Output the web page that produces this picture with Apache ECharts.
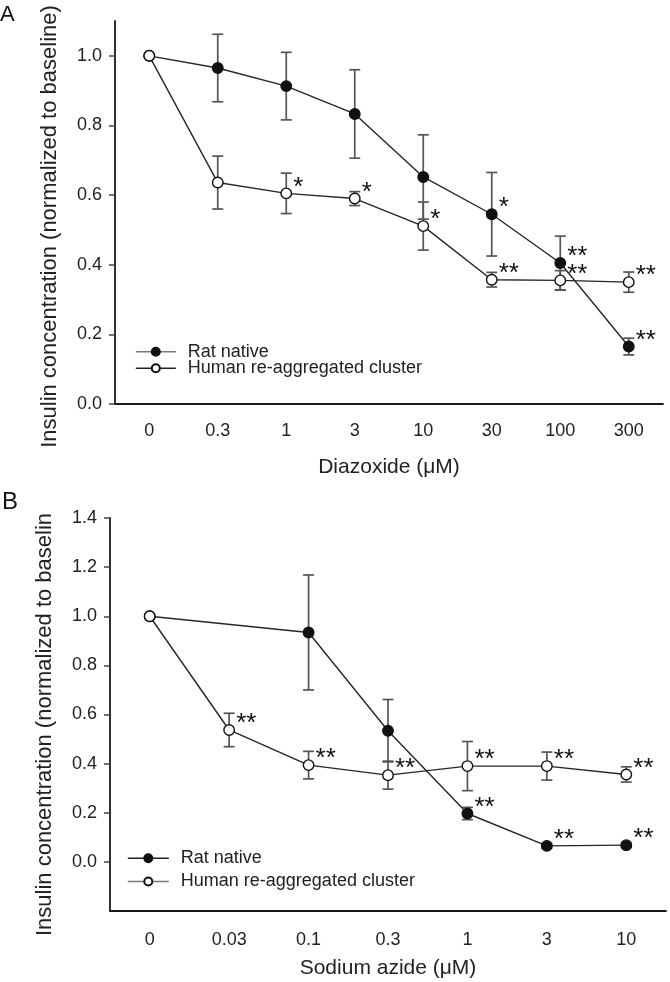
<!DOCTYPE html>
<html>
<head>
<meta charset="utf-8">
<script src="https://cdn.jsdelivr.net/npm/echarts@6/dist/echarts.min.js"></script>
<style>
html,body{margin:0;padding:0;background:#fff;}
#chart{width:670px;height:982px;}
</style>
</head>
<body>
<div id="chart"></div>
<script>
// ---- Panel A data (Diazoxide) ----
var catsA = ['0', '0.3', '1', '3', '10', '30', '100', '300'];
var ratA = [1.0, 0.965, 0.913, 0.833, 0.652, 0.545, 0.405, 0.165];
var ratAErr = [0, 0.097, 0.097, 0.127, 0.121, 0.12, 0.077, 0.024];
var ratASig = ['', '', '', '', '', '*', '**', '**'];
var humA = [1.0, 0.636, 0.605, 0.59, 0.511, 0.357, 0.355, 0.35];
var humAErr = [0, 0.076, 0.058, 0.02, 0.069, 0.021, 0.028, 0.029];
var humASig = ['', '', '*', '*', '*', '**', '**', '**'];
var yTicksA = [0.0, 0.2, 0.4, 0.6, 0.8, 1.0];

// ---- Panel B data (Sodium azide) ----
var catsB = ['0', '0.03', '0.1', '0.3', '1', '3', '10'];
var ratB = [1.0, null, 0.934, 0.534, 0.197, 0.065, 0.068];
var ratBErr = [0, null, 0.234, 0.127, 0.025, 0.01, 0.008];
var ratBSig = ['', '', '', '', '**', '**', '**'];
var humB = [1.0, 0.537, 0.394, 0.353, 0.39, 0.39, 0.356];
var humBErr = [0, 0.068, 0.056, 0.057, 0.1, 0.057, 0.031];
var humBSig = ['', '**', '**', '**', '**', '**', '**'];
var yTicksB = [0.0, 0.2, 0.4, 0.6, 0.8, 1.0, 1.2, 1.4];

var RAT = 'Rat native';
var HUM = 'Human re-aggregated cluster';
var FONT = '"Liberation Sans", Arial, sans-serif';
var TXT = '#222';
var AXC = '#1a1a1a';

function errData(vals, errs, sigs) {
  var out = [];
  for (var i = 0; i < vals.length; i++) {
    if (vals[i] == null) continue;
    out.push([i, vals[i], errs[i] || 0, sigs[i] || '']);
  }
  return out;
}

function errRender(params, api) {
  var i = api.value(0), v = api.value(1), e = api.value(2);
  var c = api.coord([i, v]);
  var children = [];
  var cap = 5.5;
  if (e > 0) {
    var t = api.coord([i, v + e]), b = api.coord([i, v - e]);
    var st = {stroke: '#555', lineWidth: 1.7};
    children.push({type: 'line', shape: {x1: c[0], y1: t[1], x2: c[0], y2: b[1]}, style: st});
    children.push({type: 'line', shape: {x1: c[0] - cap, y1: t[1], x2: c[0] + cap, y2: t[1]}, style: st});
    children.push({type: 'line', shape: {x1: c[0] - cap, y1: b[1], x2: c[0] + cap, y2: b[1]}, style: st});
  }
  return {type: 'group', children: children};
}

function sigRender(params, api) {
  var i = api.value(0), v = api.value(1);
  var s = api.value(3);
  var c = api.coord([i, v]);
  if (!s) return null;
  return {
    type: 'text',
    style: {
      text: s, x: c[0] + 7, y: c[1] - 6,
      fontSize: 26, fontFamily: FONT, fill: '#111',
      align: 'left', verticalAlign: 'middle'
    }
  };
}

function lineSeries(name, data, xi, filled) {
  return {
    name: name, type: 'line', xAxisIndex: xi, yAxisIndex: xi,
    data: data, connectNulls: true, z: 3,
    symbol: 'circle', symbolSize: 10.5,
    lineStyle: {color: '#262626', width: 1.4},
    itemStyle: {color: filled ? '#111' : '#fff', borderColor: '#111', borderWidth: 1.4},
    emphasis: {disabled: true}
  };
}
function customSeries(name, vals, errs, sigs, xi, render, z) {
  return {
    name: name, type: 'custom', xAxisIndex: xi, yAxisIndex: xi,
    data: errData(vals, errs, sigs), renderItem: render, z: z, clip: false,
    encode: {x: 0, y: 1}, silent: true
  };
}

function xAxisCfg(cats, gi, margin, nameText, nameGap) {
  return {
    type: 'category', gridIndex: gi, data: cats, boundaryGap: true,
    name: nameText, nameLocation: 'middle', nameGap: nameGap,
    nameTextStyle: {fontSize: 21, color: TXT, fontFamily: FONT},
    axisLine: {onZero: false, lineStyle: {color: AXC, width: 1.8}},
    axisTick: {alignWithLabel: true, length: 6, lineStyle: {color: '#444', width: 1.5}},
    axisLabel: {fontSize: 18, color: TXT, fontFamily: FONT, margin: margin},
    splitLine: {show: false}
  };
}
function yAxisCfg(gi, min, max, ticks, nameText, pad) {
  return {
    type: 'value', gridIndex: gi, min: min, max: max, interval: 0.2,
    name: nameText, nameLocation: 'middle', nameGap: 54, nameRotate: 90,
    nameTextStyle: {fontSize: 22, color: TXT, fontFamily: FONT, padding: [0, pad, 0, 0]},
    axisLine: {show: true, lineStyle: {color: AXC, width: 1.8}},
    axisTick: {show: true, length: 6, customValues: ticks, lineStyle: {color: '#444', width: 1.5}},
    axisLabel: {fontSize: 18, color: TXT, fontFamily: FONT, margin: 13, customValues: ticks,
      formatter: function (v) { return Number(v).toFixed(1); }},
    splitLine: {show: false}
  };
}
function legendItem(name, left, centerY, lineColor, itemWidth) {
  return {
    orient: 'horizontal', left: left, top: centerY - 9, padding: 0,
    itemWidth: itemWidth, itemHeight: 10,
    textStyle: {fontSize: 18, color: TXT, fontFamily: FONT, lineHeight: 18, padding: [0, 0, 0, 7]},
    data: [{name: name, lineStyle: {color: lineColor, width: 1.6}}],
    selectedMode: false
  };
}

var chart = echarts.init(document.getElementById('chart'), null, {renderer: 'canvas'});
chart.setOption({
  animation: false,
  backgroundColor: '#fff',
  textStyle: {fontFamily: FONT},
  graphic: [
    {type: 'text', left: 0, top: 4, style: {text: 'A', fontSize: 22, fontFamily: FONT, fill: '#111'}},
    {type: 'text', left: 2, top: 490, style: {text: 'B', fontSize: 24, fontFamily: FONT, fill: '#111'}}
  ],
  grid: [
    {left: 115, top: 21, width: 548, height: 383},
    {left: 110, top: 518, width: 556, height: 393}
  ],
  xAxis: [
    xAxisCfg(catsA, 0, 18, 'Diazoxide (\u03bcM)', 53),
    xAxisCfg(catsB, 1, 20, 'Sodium azide (\u03bcM)', 47)
  ],
  yAxis: [
    yAxisCfg(0, 0, 1.1, yTicksA, 'Insulin concentration (normalized to baseline)', 28),
    yAxisCfg(1, -0.2, 1.4, yTicksB, 'Insulin concentration (normalized to baselin', 20)
  ],
  legend: [
    legendItem(RAT, 135, 351.7, '#777', 40),
    legendItem(HUM, 135, 368.3, '#222', 40),
    legendItem(RAT, 127, 858.3, '#222', 41),
    legendItem(HUM, 127, 881.5, '#777', 41)
  ],
  series: [
    customSeries('errRatA', ratA, ratAErr, ratASig, 0, errRender, 1),
    customSeries('errHumA', humA, humAErr, humASig, 0, errRender, 1),
    lineSeries(RAT, ratA, 0, true),
    lineSeries(HUM, humA, 0, false),
    customSeries('sigRatA', ratA, ratAErr, ratASig, 0, sigRender, 4),
    customSeries('sigHumA', humA, humAErr, humASig, 0, sigRender, 4),

    customSeries('errRatB', ratB, ratBErr, ratBSig, 1, errRender, 1),
    customSeries('errHumB', humB, humBErr, humBSig, 1, errRender, 1),
    lineSeries(RAT, ratB, 1, true),
    lineSeries(HUM, humB, 1, false),
    customSeries('sigRatB', ratB, ratBErr, ratBSig, 1, sigRender, 4),
    customSeries('sigHumB', humB, humBErr, humBSig, 1, sigRender, 4)
  ]
});
</script>
</body>
</html>
